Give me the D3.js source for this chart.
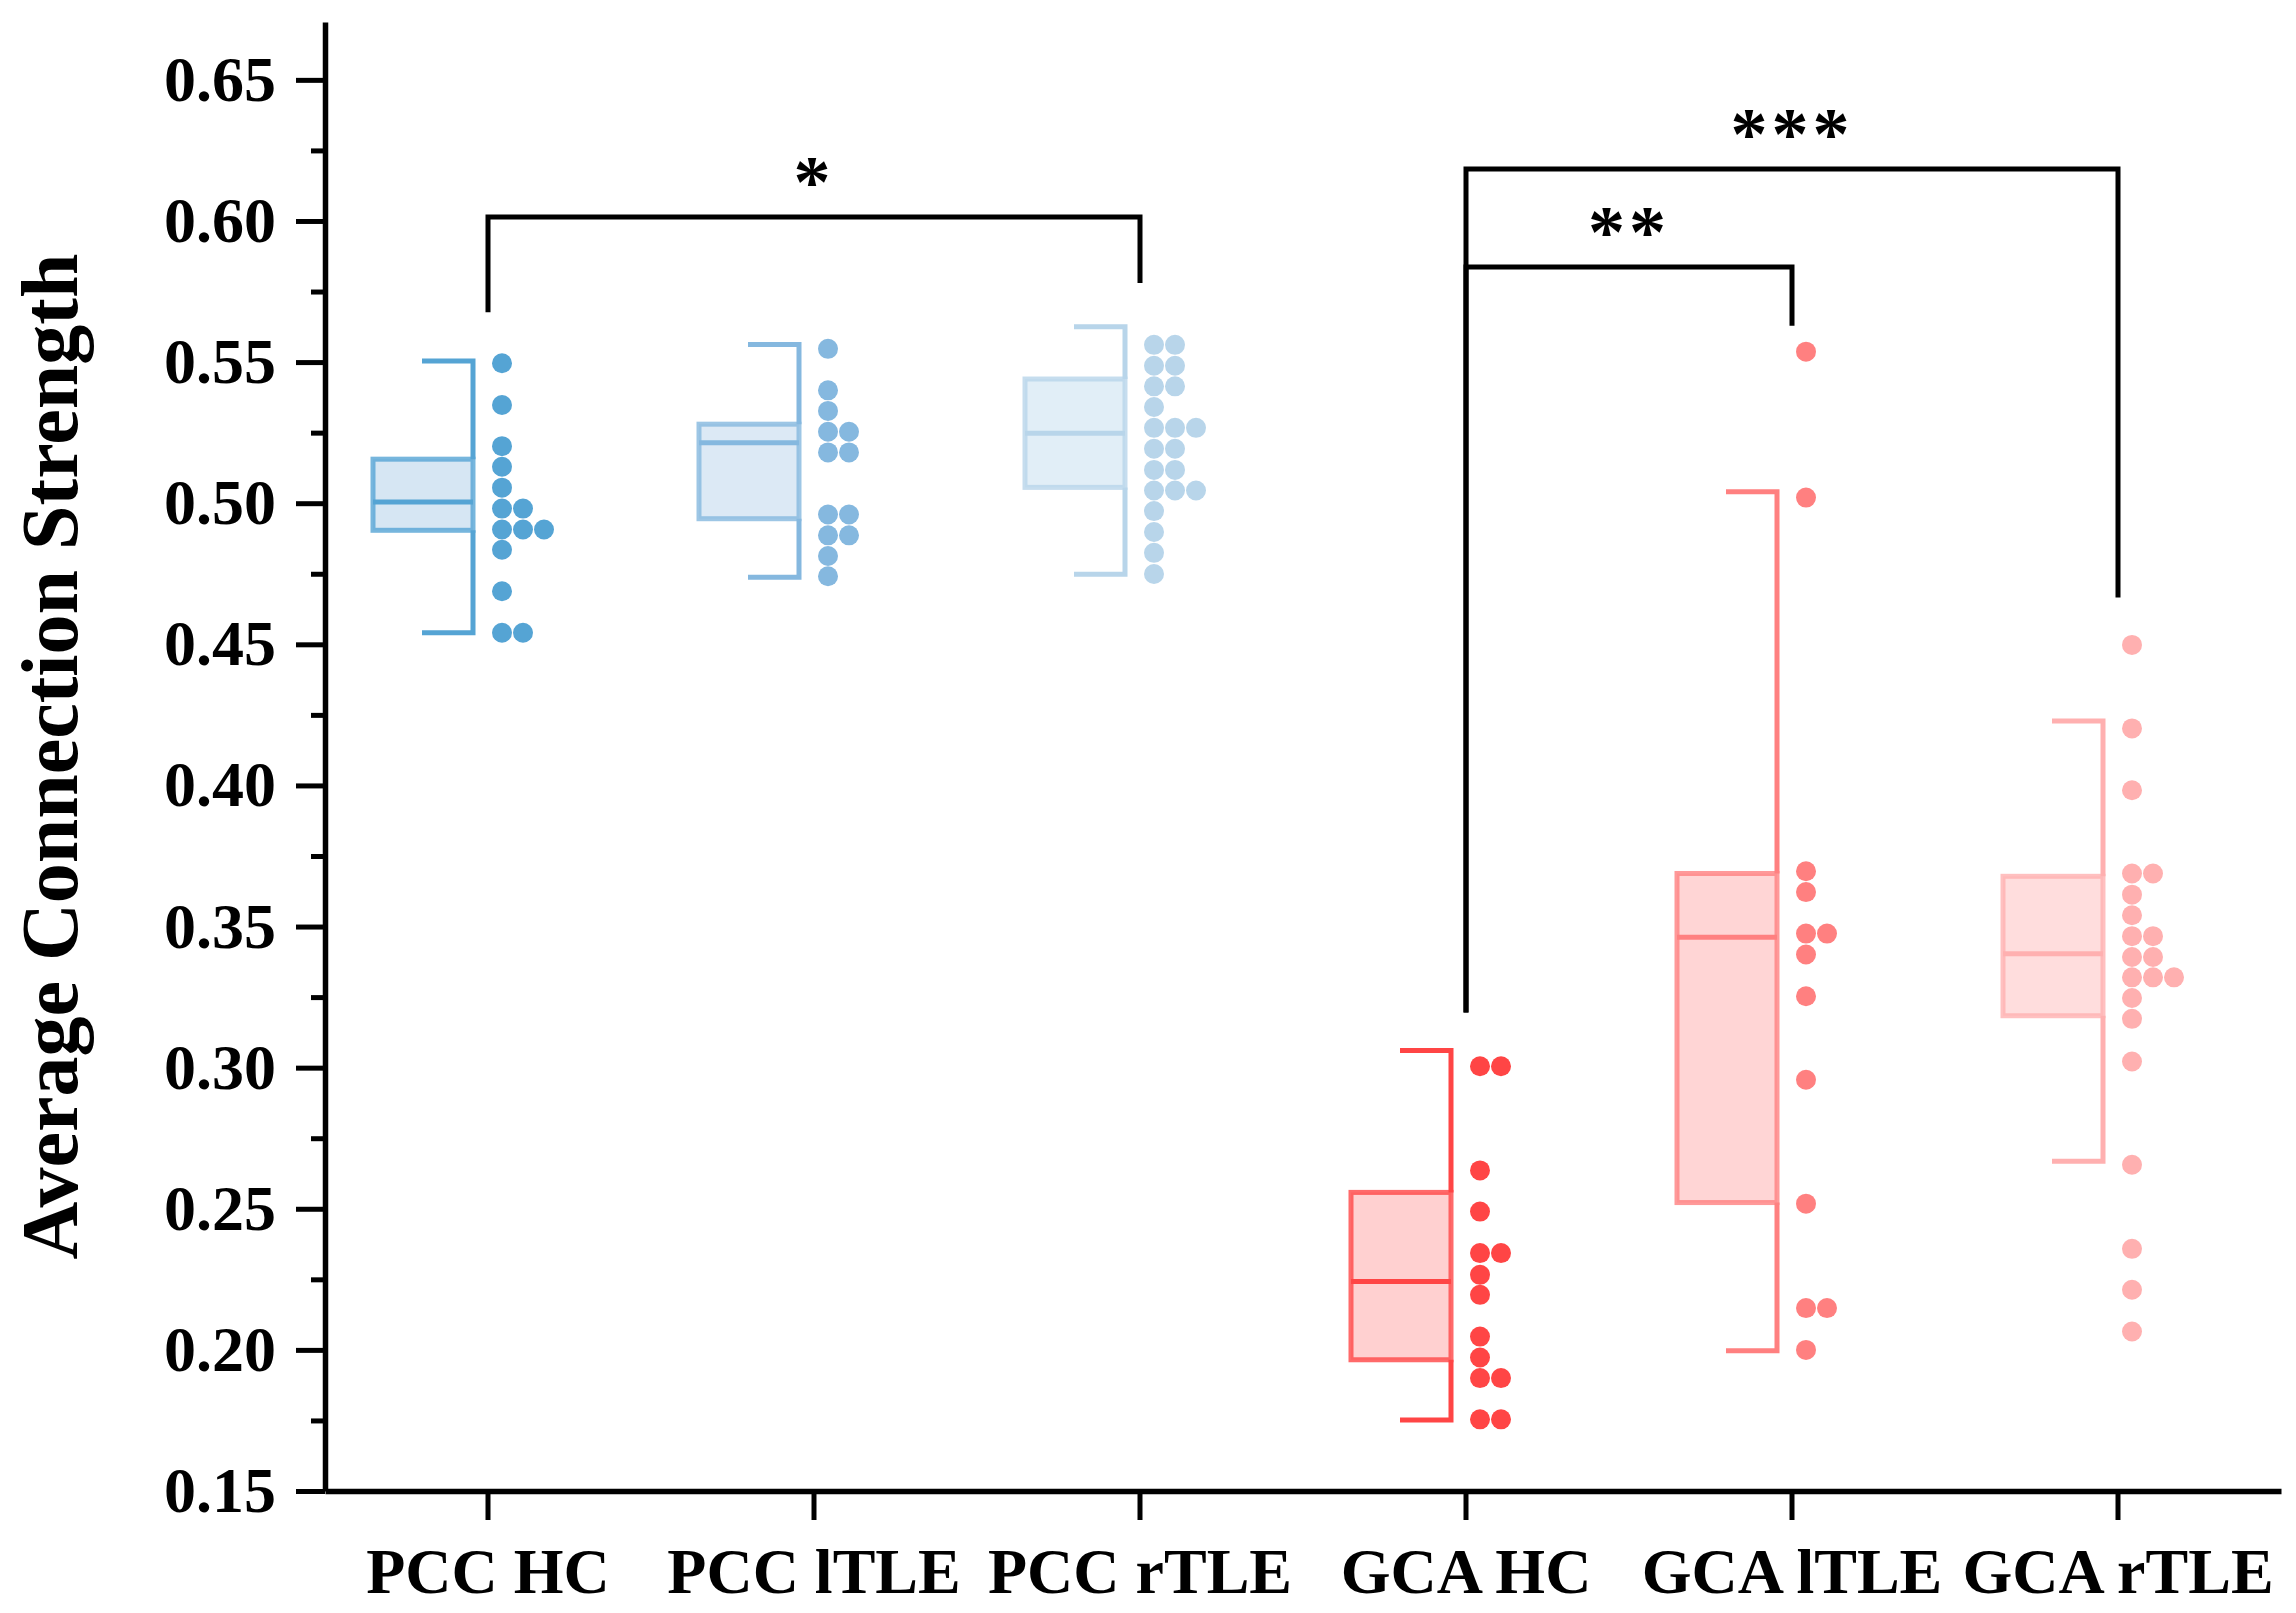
<!DOCTYPE html>
<html>
<head>
<meta charset="utf-8">
<script src="https://cdn.jsdelivr.net/npm/d3@7"></script>
<style>
  body { margin: 0; background: #fff; }
  text { font-family: "Liberation Serif", "Times New Roman", serif; font-weight: bold; }
</style>
</head>
<body>
<script>
// categories and summary values
const categories = ["PCC HC", "PCC lTLE", "PCC rTLE", "GCA HC", "GCA lTLE", "GCA rTLE"];
const whiskerLow  = [0.4541, 0.4738, 0.4748, 0.1752, 0.1997, 0.2668];
const q1          = [0.4904, 0.4945, 0.5056, 0.1965, 0.2522, 0.3184];
const median      = [0.5004, 0.5214, 0.5248, 0.2242, 0.3462, 0.3404];
const q3          = [0.5156, 0.5280, 0.5440, 0.2558, 0.3688, 0.3678];
const whiskerHigh = [0.5504, 0.5562, 0.5625, 0.3061, 0.5041, 0.4228];

// individual points (binned values as drawn)
const pccHC   = [0.5496, 0.5348, 0.5202, 0.5129, 0.5055, 0.4981, 0.4981, 0.4907, 0.4907, 0.4907, 0.4835, 0.4688, 0.4541, 0.4541];
const pccLTLE = [0.5547, 0.5400, 0.5327, 0.5253, 0.5253, 0.5180, 0.5180, 0.4960, 0.4960, 0.4886, 0.4886, 0.4813, 0.4741];
const pccRTLE = [0.5561, 0.5561, 0.5487, 0.5487, 0.5414, 0.5414, 0.5341, 0.5267, 0.5267, 0.5267, 0.5193, 0.5193,
                 0.5118, 0.5118, 0.5045, 0.5045, 0.5045, 0.4972, 0.4898, 0.4824, 0.4749];
const gcaHC   = [0.3005, 0.3005, 0.2636, 0.2490, 0.2343, 0.2343, 0.2266, 0.2195, 0.2047, 0.1973, 0.1900, 0.1900, 0.1754, 0.1754];
const gcaLTLE = [0.5537, 0.5020, 0.3696, 0.3622, 0.3475, 0.3475, 0.3401, 0.3253, 0.2957, 0.2518, 0.2148, 0.2148, 0.2000];
const gcaRTLE = [0.4498, 0.4202, 0.3983, 0.3688, 0.3688, 0.3613, 0.3540, 0.3466, 0.3466, 0.3392, 0.3392, 0.3320, 0.3320,
                 0.3320, 0.3247, 0.3173, 0.3022, 0.2656, 0.2358, 0.2213, 0.2065];
const points = [pccHC, pccLTLE, pccRTLE, gcaHC, gcaLTLE, gcaRTLE];

// significance brackets: from/to category index, level and drop ends (data units)
const sigFrom   = [0, 3, 3];
const sigTo     = [2, 5, 4];
const sigLevel  = [0.6014, 0.6184, 0.5837];
const sigDropA  = [0.5677, 0.3195, 0.3195];
const sigDropB  = [0.5780, 0.4666, 0.5629];
const sigLabel  = ["*", "***", "**"];

const yTicks = [0.15, 0.20, 0.25, 0.30, 0.35, 0.40, 0.45, 0.50, 0.55, 0.60, 0.65];
const yMinor = [0.175, 0.225, 0.275, 0.325, 0.375, 0.425, 0.475, 0.525, 0.575, 0.625];

const colors = ["#55A4D4", "#85B8DF", "#B8D5EA", "#FF4545", "#FF8080", "#FFB0B0"];
const fills  = ["#D6E6F3", "#DCE9F5", "#E1EEF7", "#FFD0D0", "#FFD5D5", "#FFDDDD"];

const width = 2296, height = 1613;
const plotLeft = 325, plotRight = 2281, plotTop = 22, plotBottom = 1491;

const svg = d3.select("body").append("svg")
    .attr("width", width)
    .attr("height", height);

const x = d3.scaleBand().domain(categories).range([plotLeft, plotRight]);
const y = d3.scaleLinear().domain([0.15, 0.6705]).range([plotBottom, plotTop]);

const cx = i => x(categories[i]) + x.bandwidth() / 2;

// boxes
categories.forEach((c, i) => {
    const g = svg.append("g");
    const col = colors[i];
    const c0 = cx(i);
    const bx0 = c0 - 115, bx1 = c0 - 15, capX = c0 - 66;

    g.append("rect")
        .attr("x", bx0)
        .attr("y", y(q3[i]))
        .attr("width", bx1 - bx0)
        .attr("height", y(q1[i]) - y(q3[i]))
        .attr("fill", fills[i])
        .attr("stroke", col)
        .attr("stroke-opacity", 0.8)
        .attr("stroke-width", 5);

    g.append("line")
        .attr("x1", bx0).attr("x2", bx1)
        .attr("y1", y(median[i])).attr("y2", y(median[i]))
        .attr("stroke", col)
        .attr("stroke-width", 5);

    g.append("path")
        .attr("d", `M${capX},${y(whiskerHigh[i])}H${bx1}V${y(q3[i])}M${bx1},${y(q1[i])}V${y(whiskerLow[i])}H${capX}`)
        .attr("fill", "none")
        .attr("stroke", col)
        .attr("stroke-width", 5);

    // dots: same bin values sit side by side
    const seen = new Map();
    const dots = points[i].map(v => {
        const k = seen.get(v) || 0;
        seen.set(v, k + 1);
        return { v, k };
    });
    g.selectAll("circle")
        .data(dots)
        .enter()
        .append("circle")
        .attr("cx", d => c0 + 14 + d.k * 21)
        .attr("cy", d => y(d.v))
        .attr("r", 10)
        .attr("fill", col);
});

// axes
svg.append("g")
    .attr("transform", `translate(${plotLeft},0)`)
    .call(d3.axisLeft(y).tickValues(yTicks).tickFormat(d3.format(".2f"))
        .tickSize(29).tickSizeOuter(0).tickPadding(20));

svg.append("g")
    .attr("transform", `translate(${plotLeft},0)`)
    .call(d3.axisLeft(y).tickValues(yMinor).tickFormat("").tickSize(14).tickSizeOuter(0))
    .call(g => g.select(".domain").remove());

svg.append("g")
    .attr("transform", `translate(0,${plotBottom})`)
    .call(d3.axisBottom(x).tickSize(29).tickSizeOuter(0).tickPadding(28));

svg.selectAll(".domain").attr("stroke", "#000").attr("stroke-width", 5.5);
svg.selectAll(".tick line").attr("stroke", "#000").attr("stroke-width", 5);
svg.selectAll(".tick text")
    .attr("fill", "#000")
    .style("font-size", "64px")
    .style("font-family", "'Liberation Serif', 'Times New Roman', serif")
    .style("font-weight", "bold");

// y title
svg.append("text")
    .attr("transform", `translate(77,${(plotTop + plotBottom) / 2}) rotate(-90)`)
    .attr("text-anchor", "middle")
    .style("font-size", "80px")
    .attr("fill", "#000")
    .text("Average Connection Strength");

// significance brackets
sigLabel.forEach((lab, j) => {
    const xa = cx(sigFrom[j]), xb = cx(sigTo[j]);
    svg.append("path")
        .attr("d", `M${xa},${y(sigDropA[j])}V${y(sigLevel[j])}H${xb}V${y(sigDropB[j])}`)
        .attr("fill", "none")
        .attr("stroke", "#000")
        .attr("stroke-width", 5);
    svg.append("text")
        .attr("x", (xa + xb) / 2)
        .attr("y", y(sigLevel[j]) - 10)
        .attr("text-anchor", "middle")
        .style("font-size", "74px")
        .style("letter-spacing", "4px")
        .attr("fill", "#000")
        .text(lab);
});
</script>
</body>
</html>
